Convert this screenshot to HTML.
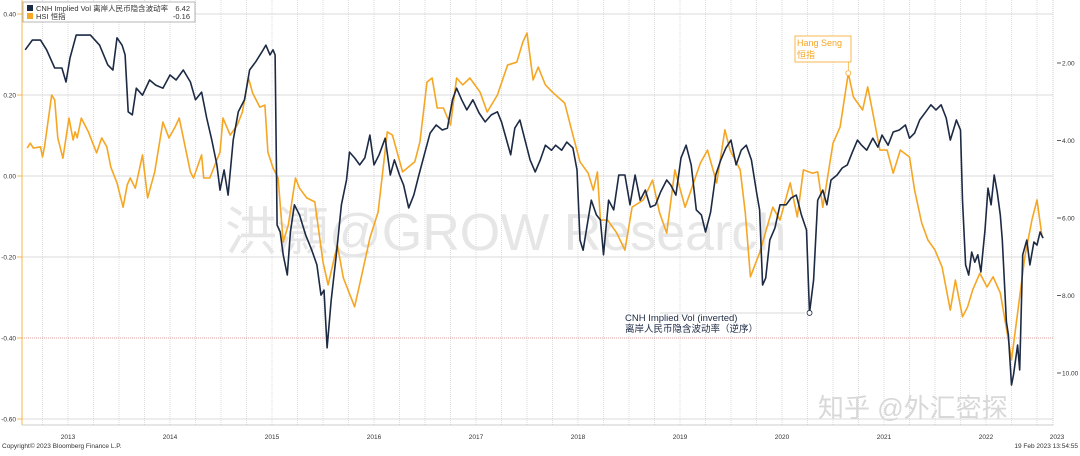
<!DOCTYPE html>
<html><head><meta charset="utf-8">
<style>
body{margin:0;background:#fff;width:1080px;height:451px;overflow:hidden;font-family:"Liberation Sans","Noto Sans CJK SC",sans-serif;}
svg text{font-family:"Liberation Sans","Noto Sans CJK SC",sans-serif;}
</style></head>
<body>
<svg id="chart" width="1080" height="451" xmlns="http://www.w3.org/2000/svg">
  <g id="grid"></g>
  <g id="watermarks">
    <text x="225" y="250" font-size="52" fill="#e6e6e6">洪灝@GROW Research</text>
    <text x="818" y="417" font-size="26" fill="#d8d8d8">知乎 @外汇密探</text>
  </g>
  <g id="series"></g>
  <g id="axes"></g>
  <g id="annotations">
    <rect x="795" y="36" width="56" height="26" fill="#fff" stroke="#f5a623" stroke-width="0.8"/>
    <text x="797" y="46" font-size="9" fill="#f5a623" font-family="Liberation Mono">Hang Seng</text>
    <text x="797" y="58" font-size="9" fill="#f5a623">恒指</text>
    <line x1="660" y1="313" x2="805" y2="313" stroke="#ccc" stroke-width="0.7"/>
    <text x="625" y="321" font-size="9.5" fill="#1c2a44" font-family="Liberation Mono">CNH Implied Vol (inverted)</text>
    <text x="625" y="332" font-size="9.5" fill="#1c2a44">离岸人民币隐含波动率（逆序）</text>
  </g>
  <g id="legend">
    <rect x="23" y="2" width="172" height="20" fill="#fff" stroke="#999" stroke-width="0.7"/>
    <rect x="27" y="5" width="6" height="6" fill="#1c2a44"/>
    <text x="36" y="11" font-size="7.5" fill="#333">CNH Implied Vol 离岸人民币隐含波动率</text>
    <text x="190" y="11" font-size="7.5" fill="#333" text-anchor="end">6.42</text>
    <rect x="27" y="13" width="6" height="6" fill="#f5a623"/>
    <text x="36" y="19" font-size="7.5" fill="#333">HSI 恒指</text>
    <text x="190" y="19" font-size="7.5" fill="#333" text-anchor="end">-0.16</text>
  </g>
  <text x="2" y="448" font-size="6.5" fill="#333">Copyright© 2023 Bloomberg Finance L.P.</text>
  <text x="1078" y="448" font-size="6.5" fill="#333" text-anchor="end">19 Feb 2023 13:54:55</text>
</svg>
<script>
const leftTicks=[0.4,0.2,0,-0.2,-0.4,-0.6];
const leftTickLabels=["0.40","0.20","0.00","-0.20","-0.40","-0.60"];
const rightTicks=[2,4,6,8,10];
const rightTickLabels=["2.00","4.00","6.00","8.00","10.00"];
const years=[2013,2014,2015,2016,2017,2018,2019,2020,2021,2022,2023];
const cnhDates=[2013.08,2013.15,2013.23,2013.29,2013.37,2013.44,2013.48,2013.52,2013.58,2013.72,2013.81,2013.89,2013.94,2013.98,2014.03,2014.06,2014.09,2014.13,2014.17,2014.23,2014.30,2014.36,2014.43,2014.50,2014.56,2014.63,2014.70,2014.75,2014.81,2014.86,2014.91,2014.96,2014.99,2015.03,2015.07,2015.12,2015.17,2015.23,2015.28,2015.34,2015.40,2015.44,2015.48,2015.51,2015.53,2015.55,2015.58,2015.61,2015.65,2015.68,2015.72,2015.77,2015.83,2015.89,2015.94,2015.98,2016.01,2016.04,2016.08,2016.13,2016.18,2016.23,2016.26,2016.31,2016.36,2016.41,2016.46,2016.50,2016.55,2016.61,2016.66,2016.70,2016.75,2016.79,2016.84,2016.89,2016.94,2017.00,2017.05,2017.11,2017.17,2017.22,2017.27,2017.31,2017.36,2017.41,2017.47,2017.53,2017.59,2017.65,2017.71,2017.75,2017.80,2017.84,2017.88,2017.93,2017.98,2018.03,2018.08,2018.13,2018.18,2018.24,2018.28,2018.34,2018.39,2018.45,2018.49,2018.52,2018.55,2018.59,2018.63,2018.68,2018.72,2018.75,2018.80,2018.85,2018.90,2018.96,2019.01,2019.06,2019.11,2019.16,2019.21,2019.26,2019.31,2019.37,2019.41,2019.46,2019.51,2019.56,2019.61,2019.66,2019.71,2019.75,2019.80,2019.85,2019.90,2019.95,2020.00,2020.05,2020.10,2020.15,2020.20,2020.25,2020.28,2020.31,2020.34,2020.38,2020.43,2020.48,2020.54,2020.59,2020.64,2020.69,2020.74,2020.77,2020.81,2020.85,2020.90,2020.94,2020.98,2021.04,2021.09,2021.14,2021.19,2021.24,2021.28,2021.33,2021.39,2021.44,2021.48,2021.54,2021.59,2021.65,2021.71,2021.75,2021.80,2021.85,2021.91,2021.96,2022.01,2022.06,2022.11,2022.15,2022.18,2022.21,2022.25,2022.27,2022.30,2022.33,2022.36,2022.39,2022.42,2022.45,2022.49,2022.52,2022.55,2022.58,2022.61,2022.64,2022.66,2022.70,2022.72,2022.75,2022.77,2022.81,2022.83,2022.86,2022.90,2022.93,2022.97,2023.00,2023.03,2023.06];
const cnhValues=[1.66,1.41,1.41,1.66,2.13,2.13,2.49,1.87,1.28,1.28,1.54,2.05,2.18,1.35,1.54,1.79,3.26,3.34,2.65,2.83,2.44,2.57,2.65,2.31,2.44,2.18,2.49,2.95,2.75,3.42,3.99,4.63,5.28,4.76,5.41,3.99,3.26,2.95,2.18,1.97,1.72,1.54,1.79,1.66,1.79,6.18,6.36,6.95,7.47,6.36,5.66,5.92,6.44,6.83,7.21,7.99,7.86,9.35,8.12,6.95,5.66,5.02,4.30,4.45,4.63,4.45,3.86,4.63,4.37,3.94,4.89,4.50,4.89,5.15,5.74,5.41,4.89,4.30,3.81,3.60,3.73,3.68,2.95,2.65,2.95,3.21,2.95,3.29,3.52,3.34,3.26,3.52,3.99,4.37,3.68,3.47,3.99,4.50,4.81,4.50,4.12,4.25,4.12,4.25,4.04,4.19,4.76,6.57,6.83,6.18,5.54,5.92,6.05,6.95,5.54,5.79,4.89,4.89,5.66,4.89,5.54,5.28,5.72,5.66,5.33,5.02,5.15,5.41,4.45,4.12,4.63,5.79,5.92,6.36,5.85,4.89,4.50,4.19,3.99,4.63,4.25,4.12,4.50,5.33,5.79,7.73,7.55,6.57,6.26,5.66,5.66,5.48,5.41,5.92,6.31,8.45,7.60,5.54,5.28,5.66,5.02,4.89,4.71,4.63,4.30,3.99,4.12,4.25,3.94,4.17,3.86,4.12,3.78,3.73,3.60,3.94,3.81,3.47,3.26,3.08,3.21,3.08,3.42,3.99,3.73,3.47,3.73,5.54,7.21,7.47,6.88,7.14,6.95,7.39,6.31,5.23,5.66,4.89,5.33,5.92,6.57,8.68,9.02,10.31,10.05,9.28,9.92,6.95,6.57,7.21,6.62,6.70,6.36,6.52];
const hsiDates=[2013.10,2013.13,2013.16,2013.23,2013.25,2013.27,2013.34,2013.37,2013.40,2013.45,2013.51,2013.55,2013.57,2013.59,2013.63,2013.70,2013.78,2013.83,2013.88,2013.92,2013.98,2014.04,2014.08,2014.11,2014.16,2014.23,2014.28,2014.35,2014.43,2014.49,2014.55,2014.59,2014.70,2014.73,2014.81,2014.83,2014.89,2014.99,2015.02,2015.09,2015.16,2015.21,2015.27,2015.31,2015.38,2015.43,2015.46,2015.51,2015.56,2015.61,2015.66,2015.73,2015.77,2015.84,2015.92,2016.00,2016.05,2016.14,2016.20,2016.31,2016.38,2016.46,2016.54,2016.63,2016.68,2016.78,2016.90,2016.95,2017.02,2017.07,2017.12,2017.18,2017.25,2017.31,2017.37,2017.44,2017.54,2017.61,2017.71,2017.81,2017.90,2017.96,2018.00,2018.06,2018.11,2018.18,2018.25,2018.37,2018.45,2018.52,2018.60,2018.65,2018.69,2018.72,2018.79,2018.88,2018.96,2019.03,2019.14,2019.23,2019.30,2019.37,2019.45,2019.55,2019.62,2019.70,2019.77,2019.86,2019.94,2019.99,2020.09,2020.14,2020.19,2020.28,2020.41,2020.48,2020.58,2020.65,2020.71,2020.80,2020.85,2020.90,2021.00,2021.07,2021.15,2021.20,2021.29,2021.34,2021.39,2021.46,2021.53,2021.59,2021.66,2021.75,2021.80,2021.87,2021.93,2022.00,2022.07,2022.15,2022.20,2022.27,2022.32,2022.37,2022.44,2022.51,2022.57,2022.64,2022.72,2022.75,2022.81,2022.88,2022.95,2023.00,2023.05];
const hsiValues=[0.069,0.081,0.069,0.072,0.047,0.072,0.200,0.188,0.094,0.044,0.143,0.089,0.109,0.094,0.143,0.109,0.057,0.094,0.072,0.022,-0.017,-0.077,-0.022,-0.005,-0.030,0.052,-0.054,0.010,0.133,0.094,0.121,0.143,0.010,-0.005,0.052,-0.005,-0.005,0.059,0.143,0.101,0.126,0.158,0.242,0.205,0.170,0.175,0.059,0.020,-0.005,-0.163,-0.121,-0.005,-0.030,-0.054,-0.064,-0.212,-0.269,-0.170,-0.252,-0.323,-0.244,-0.153,-0.089,0.109,0.101,0.010,0.035,0.084,0.232,0.242,0.168,0.168,0.126,0.242,0.225,0.242,0.207,0.158,0.200,0.274,0.281,0.331,0.353,0.237,0.269,0.225,0.207,0.180,0.101,0.035,0.007,-0.035,0.010,-0.109,-0.109,-0.141,-0.183,-0.077,-0.059,-0.010,-0.091,-0.141,0.015,-0.077,-0.027,0.032,0.064,-0.017,0.114,0.064,0.015,-0.091,-0.249,-0.190,-0.077,-0.109,-0.017,-0.101,0.015,0.007,0.010,-0.077,0.081,0.121,0.254,0.195,0.163,0.220,0.156,0.064,0.064,0.007,0.064,0.047,-0.035,-0.116,-0.158,-0.183,-0.225,-0.331,-0.257,-0.348,-0.323,-0.281,-0.240,-0.274,-0.249,-0.289,-0.405,-0.454,-0.338,-0.200,-0.109,-0.059,-0.151];

const NS="http://www.w3.org/2000/svg";
const X0=22,X1=1053;
function xScale(d){return 17+(d-2013)*102;}
function yLeft(v){return 176-v*405;}
function yRight(v){return 63+(v-2)*38.75;}
function mk(tag,attrs,parent){const e=document.createElementNS(NS,tag);for(const k in attrs)e.setAttribute(k,attrs[k]);parent.appendChild(e);return e;}
const grid=document.getElementById('grid'),axes=document.getElementById('axes'),series=document.getElementById('series');

// vertical quarter grid
for(let q=0;q<=41;q++){
  const x=xScale(2013+q/4);
  if(x<X0||x>X1)continue;
  const l=mk('line',{x1:x,y1:0,x2:x,y2:425,stroke:'#cfcfcf','stroke-width':0.7,'stroke-dasharray':'1,1'},grid);
  
  
}
// horizontal grid + left axis
leftTicks.forEach((t,i)=>{
  const y=yLeft(t);
  const red=Math.abs(t+0.4)<1e-9;
  const l=mk('line',{x1:X0,y1:y,x2:X1,y2:y,stroke:red?'#d98080':'#cfcfcf','stroke-width':0.8,'stroke-dasharray':red?'1,1':'none'},grid);
  
  
  const tx=mk('text',{x:16,y:y+2.5,'font-size':6.5,fill:'#333','text-anchor':'end'},axes);
  tx.textContent=leftTickLabels[i];
  
  
  const tk=mk('line',{x1:17,y1:y,x2:22,y2:y,stroke:'#f5a623','stroke-width':0.8},axes);
  
  
});
// axis frame lines
const la=mk('line',{x1:X0,y1:0,x2:X0,y2:425,stroke:'#f5a623','stroke-width':0.8},axes);


const ra=mk('line',{x1:X1,y1:0,x2:X1,y2:425,stroke:'#bbb','stroke-width':0.7,'stroke-dasharray':'1,1'},axes);


const ba=mk('line',{x1:X0,y1:425,x2:X1,y2:425,stroke:'#bbb','stroke-width':0.7},axes);


// right axis
rightTicks.forEach((t,i)=>{
  const y=yRight(t);
  const tk=mk('line',{x1:X1+4,y1:y,x2:X1+8,y2:y,stroke:'#333','stroke-width':0.8},axes);
  
  
  const tx=mk('text',{x:X1+9,y:y+2.5,'font-size':6.5,fill:'#333'},axes);
  tx.textContent=rightTickLabels[i];
  
  
});
// year labels
years.forEach(yr=>{
  let x=xScale(yr+0.5);
  if(yr===2023)x=xScale(yr)+20;
  const tx=mk('text',{x:x,y:439,'font-size':6.5,fill:'#333','text-anchor':'middle'},axes);
  tx.textContent=String(yr);
  
  
});
// series
function path(dates,vals,yf){return dates.map((d,i)=>(i?'L':'M')+xScale(d).toFixed(1)+','+yf(vals[i]).toFixed(1)).join('');}
const hsi=mk('path',{d:path(hsiDates,hsiValues,yLeft),fill:'none',stroke:'#f5a623','stroke-width':1.6,'stroke-linejoin':'round'},series);


const cnh=mk('path',{d:path(cnhDates,cnhValues,yRight),fill:'none',stroke:'#1c2a44','stroke-width':1.6,'stroke-linejoin':'round'},series);


// annotation markers
let hi=0;hsiValues.forEach((v,i)=>{if(xScale(hsiDates[i])>800&&v>hsiValues[hi]||xScale(hsiDates[hi])<=800)hi=i;});
const hm=mk('circle',{cx:xScale(hsiDates[hi]),cy:yLeft(hsiValues[hi]),r:2.5,fill:'#fff',stroke:'#f5a623','stroke-width':0.8},series);


const hl=mk('line',{x1:xScale(hsiDates[hi]),y1:yLeft(hsiValues[hi])-3,x2:xScale(hsiDates[hi]),y2:62,stroke:'#f5a623','stroke-width':0.7},series);


let ci=0;cnhDates.forEach((d,i)=>{if(d>2020.5&&d<2021&&cnhValues[i]>(cnhValues[ci]||0)&&cnhDates[ci]>2020.5||ci===0&&d>2020.5&&d<2021)ci=i;});
const cm=mk('circle',{cx:xScale(cnhDates[ci]),cy:yRight(cnhValues[ci]),r:2.5,fill:'#fff',stroke:'#1c2a44','stroke-width':0.8},series);


</script>
</body></html>
